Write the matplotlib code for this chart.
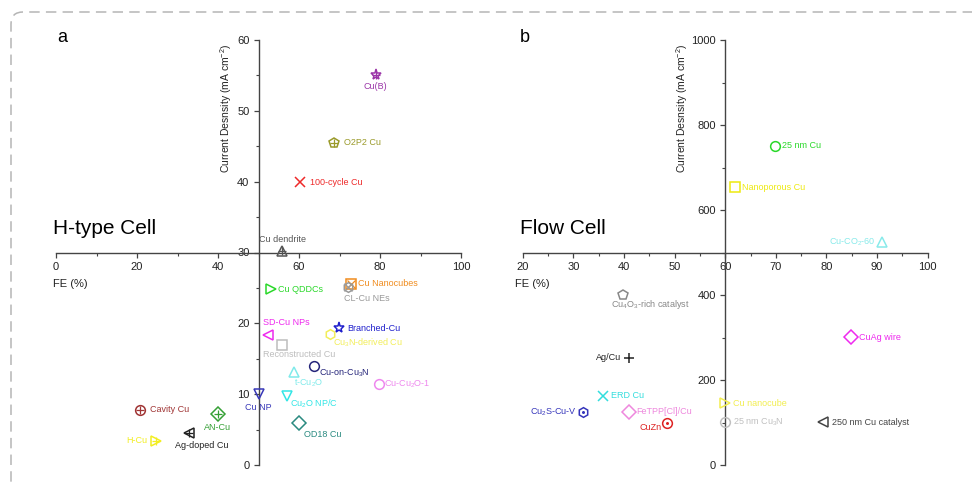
"""
FE vs current density maps: (a) H-type cell, (b) flow cell.
Spines cross inside the plot, so the axes are drawn with centred spines.
"""
import matplotlib
matplotlib.use("Agg")
import matplotlib.pyplot as plt
from matplotlib.patches import FancyBboxPatch
from matplotlib.transforms import IdentityTransform
from matplotlib.ticker import MultipleLocator

plt.rcParams["font.family"] = ["Liberation Sans", "DejaVu Sans"]
plt.rcParams["mathtext.fontset"] = "custom"
plt.rcParams["mathtext.rm"] = "Liberation Sans"
plt.rcParams["mathtext.default"] = "regular"
plt.rcParams["lines.scale_dashes"] = False

# ---------------- data: H-type cell ----------------
h_names = ["Cu(B)", "O2P2 Cu", "100-cycle Cu", "Cu dendrite", "Cu QDDCs",
           "Cu Nanocubes", "CL-Cu NEs", "SD-Cu NPs", "Reconstructed Cu",
           "Branched-Cu", "Cu$_3$N-derived Cu", "Cu-on-Cu$_3$N", "t-Cu$_2$O",
           "Cu-Cu$_2$O-1", "Cu NP", "Cu$_2$O NP/C", "Cavity Cu", "AN-Cu",
           "OD18 Cu", "Ag-doped Cu", "H-Cu"]
h_fe = [78.9, 68.7, 60.3, 55.9, 53.1, 72.8, 72.0, 52.3, 55.9, 69.9, 67.7,
        63.8, 58.8, 79.8, 50.0, 57.0, 20.8, 39.9, 59.9, 32.9, 24.7]
h_j = [55.0, 45.5, 39.9, 30.2, 24.9, 25.6, 25.2, 18.4, 17.0, 19.3, 18.5,
       14.0, 13.1, 11.4, 10.0, 9.8, 7.8, 7.2, 5.9, 4.5, 3.4]

# ---------------- data: flow cell ----------------
f_names = ["25 nm Cu", "Nanoporous Cu", "Cu-CO$_2$-60", "Cu$_4$O$_3$-rich catalyst",
           "CuAg wire", "Ag/Cu", "ERD Cu", "Cu$_2$S-Cu-V", "FeTPP[Cl]/Cu",
           "CuZn", "Cu nanocube", "25 nm Cu$_3$N", "250 nm Cu catalyst"]
f_fe = [69.8, 61.9, 91.0, 39.9, 84.9, 40.9, 35.9, 32.0, 40.9, 48.5, 60.0, 60.0, 79.3]
f_j = [751, 653, 524, 401, 301, 252, 163, 125, 125, 98, 145, 101, 101]

# ---------------- styles ----------------
# (marker, overlay marker, colour)
h_style = [("*", "+", "#9b35a8"), ("p", "+", "#9a9a2a"), ("x", None, "#ee2a2a"),
           ("^", "+", "#555555"), (">", None, "#2ad82a"), ("s", "x", "#f08c1e"),
           ("h", "x", "#9a9a9a"), ("<", None, "#ee2aee"), ("s", None, "#bdbdbd"),
           ("*", None, "#1f1fcc"), ("h", None, "#f2ee5a"), ("o", None, "#25257a"),
           ("^", None, "#80eaea"), ("o", None, "#ee88ee"), ("v", None, "#3838b8"),
           ("v", None, "#33e6e6"), ("o", "+", "#a03535"), ("D", "+", "#35a035"),
           ("D", None, "#2a8a80"), ("<", "+", "#222222"), (">", "+", "#f2ee22")]
f_style = [("o", None, "#2ad82a"), ("s", None, "#eeea10"), ("^", None, "#88eaea"),
           ("p", None, "#888888"), ("D", None, "#ee2aee"), ("+", None, "#222222"),
           ("x", None, "#33dddd"), ("h", ".", "#3535bb"), ("D", None, "#ee88dd"),
           ("o", ".", "#dd2222"), (">", None, "#f2ee50"), ("o", None, "#c0c0c0"),
           ("<", None, "#444444")]

# label offsets in pixels (dx, dy) and horizontal alignment
h_lab = [((0, -11), "center"), ((10, 0), "left"), ((10, 0), "left"),
         ((0, 12), "center"), ((7, -1), "left"), ((7, 0), "left"),
         ((-4, -12), "left"), ((-5, 12), "left"), ((-19, -10), "left"),
         ((8, 0), "left"), ((3, -9), "left"), ((5, -7), "left"),
         ((0, -11), "left"), ((5, 0), "left"), ((0, -13), "center"),
         ((3, -8), "left"), ((10, 0), "left"), ((0, -13), "center"),
         ((5, -11), "left"), ((-14, -12), "left"), ((-9, 0), "right")]
f_lab = [((7, 0), "left"), ((7, 0), "left"), ((-7, 0), "right"),
         ((-12, -10), "left"), ((8, 0), "left"), ((-7, 0), "right"),
         ((8, 0), "left"), ((-7, 0), "right"), ((8, 0), "left"),
         ((-5, -4), "right"), ((8, 0), "left"), ((8, 0), "left"),
         ((9, 0), "left")]

AX_COL = "#444444"

fig = plt.figure(figsize=(9.72, 4.84), dpi=100)
W, H = 972, 484

# dashed rounded frame
frame = FancyBboxPatch((11, -60), 1100, 472 + 60, boxstyle="round,pad=0,rounding_size=12",
                       transform=IdentityTransform(), fill=False, edgecolor="#b5b5b5",
                       linewidth=1.1, linestyle=(0, (7.5, 4.5)))
fig.patches.append(frame)


def make_axes(x0, x1, xlim, ylim, cross, xmaj, xmin, ymaj, ymin):
    ax = fig.add_axes([x0 / W, 19 / H, (x1 - x0) / W, 425 / H])
    ax.set_xlim(*xlim)
    ax.set_ylim(*ylim)
    ax.spines["left"].set_position(("data", cross[0]))
    ax.spines["bottom"].set_position(("data", cross[1]))
    ax.spines["top"].set_visible(False)
    ax.spines["right"].set_visible(False)
    for s in ("left", "bottom"):
        ax.spines[s].set_color(AX_COL)
        ax.spines[s].set_linewidth(1.0)
    ax.xaxis.set_major_locator(MultipleLocator(xmaj))
    ax.xaxis.set_minor_locator(MultipleLocator(xmin))
    ax.yaxis.set_major_locator(MultipleLocator(ymaj))
    ax.yaxis.set_minor_locator(MultipleLocator(ymin))
    ax.tick_params(which="major", length=3.5, width=0.9, color=AX_COL,
                   labelsize=8, labelcolor="#222222", pad=3)
    ax.tick_params(which="minor", length=2.2, width=0.8, color=AX_COL)
    ax.patch.set_alpha(0)
    return ax


def draw_points(ax, names, fe, jd, styles, labs):
    for n, x, y, (m, ov, c), ((dx, dy), ha) in zip(names, fe, jd, styles, labs):
        ax.plot(x, y, marker=m, ms=8 if m == "*" else 7, mfc="none",
                mec=c, mew=1.1, ls="none", clip_on=False, zorder=3)
        if ov:
            ax.plot(x, y, marker=ov, ms=6 if ov != "." else 2.5, mec=c, mfc=c,
                    mew=0.9, ls="none", clip_on=False, zorder=3)
        ax.annotate(n, (x, y), xytext=(dx * 0.72, dy * 0.72), textcoords="offset points",
                    ha=ha, va="center", fontsize=6.5, color=c, zorder=4)


# ---------------- panel a ----------------
ax1 = make_axes(56, 461, (0, 100), (0, 60), (50, 30), 20, 10, 10, 5)
draw_points(ax1, h_names, h_fe, h_j, h_style, h_lab)

# ---------------- panel b ----------------
ax2 = make_axes(522.7, 927.7, (20, 100), (0, 1000), (60, 500), 10, 5, 200, 100)
draw_points(ax2, f_names, f_fe, f_j, f_style, f_lab)

# panel texts (figure pixel positions)
def ftext(x, y, s, **kw):
    fig.text(x / W, 1 - y / H, s, **kw)

ftext(57, 38, "a", fontsize=13, va="center", ha="left")
ftext(520, 38, "b", fontsize=13, va="center", ha="left")
ftext(53, 228, "H-type Cell", fontsize=15, va="center", ha="left")
ftext(520, 228, "Flow Cell", fontsize=15, va="center", ha="left")
ftext(53, 284, "FE (%)", fontsize=8, va="center", ha="left", color="#222222")
ftext(515, 284, "FE (%)", fontsize=8, va="center", ha="left", color="#222222")
ftext(226, 108, "Current Desnsity (mA cm$^{-2}$)", fontsize=7.5, rotation=90,
      va="center", ha="center", color="#222222")
ftext(682, 108, "Current Desnsity (mA cm$^{-2}$)", fontsize=7.5, rotation=90,
      va="center", ha="center", color="#222222")

fig.savefig("out.png", dpi=100)
